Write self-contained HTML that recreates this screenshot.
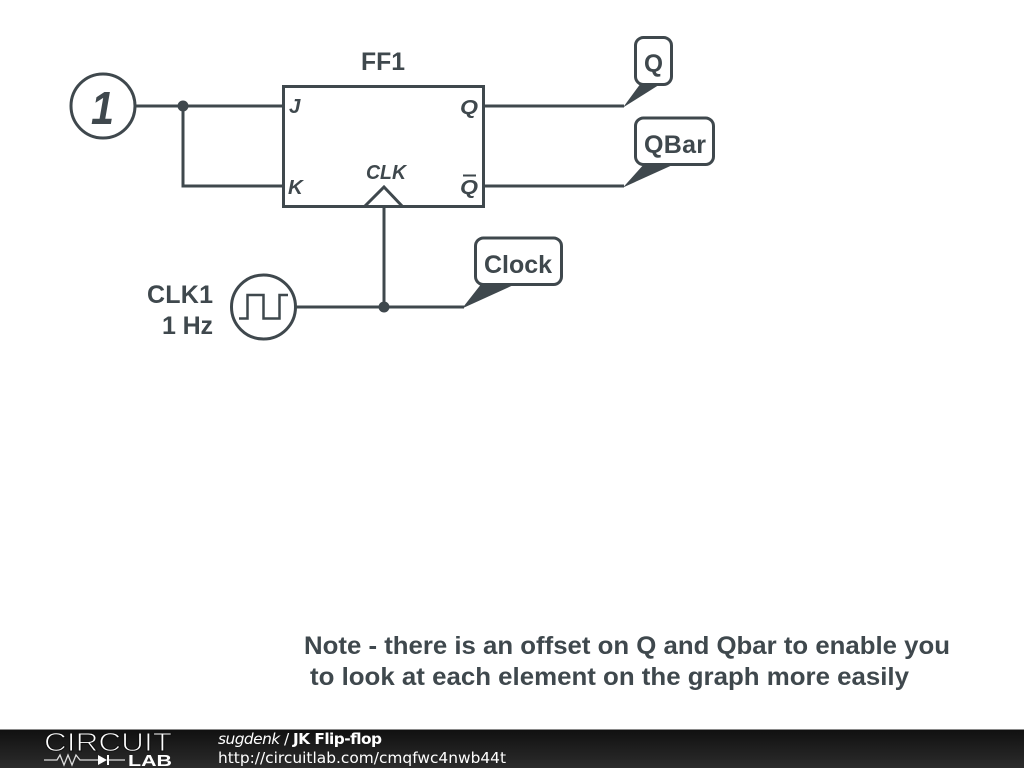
<!DOCTYPE html>
<html><head><meta charset="utf-8"><style>
html,body{margin:0;padding:0;background:#fff;width:1024px;height:768px;overflow:hidden}
svg{display:block}
.b{font-family:"Liberation Sans",sans-serif;font-weight:bold;font-size:25px;fill:#3f484d}
.p{font-family:"Liberation Sans",sans-serif;font-style:italic;font-weight:bold;font-size:20.500px;fill:#3f484d}
.f{font-family:"DejaVu Sans",sans-serif;font-size:15.400px;fill:#fff}
</style></head><body>
<svg width="1024" height="768" viewBox="0 0 1024 768" xmlns="http://www.w3.org/2000/svg">
<defs><linearGradient id="g" x1="0" y1="0" x2="0" y2="1"><stop offset="0" stop-color="#101010"/><stop offset="1" stop-color="#2c2c2c"/></linearGradient></defs>
<rect width="1024" height="768" fill="#fff"/>
<g fill="none" stroke="#3f484d" stroke-width="3">
<circle cx="103" cy="106" r="32"/>
<circle cx="263.500" cy="307" r="32"/>
<rect x="283.500" y="86.500" width="200" height="120"/>
<path d="M135 106H283M183 106V186H283M484 106H624M484 186H624M296 307H464M384 207V307"/>
<path d="M364 207L384 187L403 207"/>
<path d="M239 318.500H247.500V295H263.500V318.500H279.500V295H288" stroke-width="2.500"/>
</g>
<circle cx="183" cy="106" r="5.500" fill="#3f484d"/>
<circle cx="384" cy="307" r="5.500" fill="#3f484d"/>
<path d="M623 107.500L641 83H662Z" fill="#3f484d"/>
<path d="M623 187.500L645 163H677Z" fill="#3f484d"/>
<path d="M462 308.500L482 283H518Z" fill="#3f484d"/>
<g fill="#fff" stroke="#3f484d" stroke-width="3">
<rect x="635.500" y="37.500" width="36" height="47" rx="8"/>
<rect x="635.500" y="118" width="78" height="46.500" rx="8"/>
<rect x="475.500" y="238" width="86" height="46.500" rx="8"/>
</g>
<text class="b" x="361" y="70" textLength="44" lengthAdjust="spacingAndGlyphs">FF1</text>
<text class="b" x="644" y="72" textLength="19" lengthAdjust="spacingAndGlyphs">Q</text>
<text class="b" x="644" y="153" textLength="62" lengthAdjust="spacing">QBar</text>
<text class="b" x="484" y="273" textLength="68" lengthAdjust="spacing">Clock</text>
<text class="b" x="147" y="303" textLength="66" lengthAdjust="spacing">CLK1</text>
<text class="b" x="162" y="334" textLength="51" lengthAdjust="spacing">1 Hz</text>
<text x="91" y="124" font-family="Liberation Sans,sans-serif" font-weight="bold" font-size="46" font-style="italic" fill="#3f484d" textLength="23" lengthAdjust="spacingAndGlyphs">1</text>
<text class="p" x="289" y="113">J</text>
<text class="p" x="288" y="194">K</text>
<text class="p" x="460" y="114" textLength="18" lengthAdjust="spacingAndGlyphs">Q</text>
<text class="p" x="460" y="194" textLength="18" lengthAdjust="spacingAndGlyphs">Q</text>
<path d="M463 175.500H476" stroke="#3f484d" stroke-width="2"/>
<text class="p" x="366" y="179" textLength="40" lengthAdjust="spacingAndGlyphs">CLK</text>
<text class="b" x="304" y="654" textLength="646" lengthAdjust="spacingAndGlyphs">Note - there is an offset on Q and Qbar to enable you</text>
<text class="b" x="310" y="685" textLength="599" lengthAdjust="spacingAndGlyphs">to look at each element on the graph more easily</text>
<rect x="0" y="729" width="1024" height="39" fill="url(#g)"/>
<rect x="0" y="729" width="1024" height="1" fill="#8a8a8a"/>
<text x="44" y="751" font-family="Liberation Sans,sans-serif" font-size="26" fill="#fff" stroke="#111" stroke-width="1" textLength="128" lengthAdjust="spacingAndGlyphs">CIRCUIT</text>
<path d="M44 760H57L60 755L64 765L68 755L72 765L76 755L80 760H98M108 760H125" fill="none" stroke="#ddd" stroke-width="1.300"/>
<path d="M98 755V765L107 760Z M107 755H109V765H107Z" fill="#fff"/>
<text x="128" y="766" font-family="Liberation Sans,sans-serif" font-weight="bold" font-size="16" fill="#fff" textLength="44" lengthAdjust="spacingAndGlyphs">LAB</text>
<text class="f" x="218" y="744" textLength="164" lengthAdjust="spacing"><tspan font-style="italic">sugdenk</tspan> / <tspan font-weight="bold">JK Flip-flop</tspan></text>
<text class="f" x="218" y="763" textLength="288" lengthAdjust="spacingAndGlyphs">http://circuitlab.com/cmqfwc4nwb44t</text>
</svg>
</body></html>
